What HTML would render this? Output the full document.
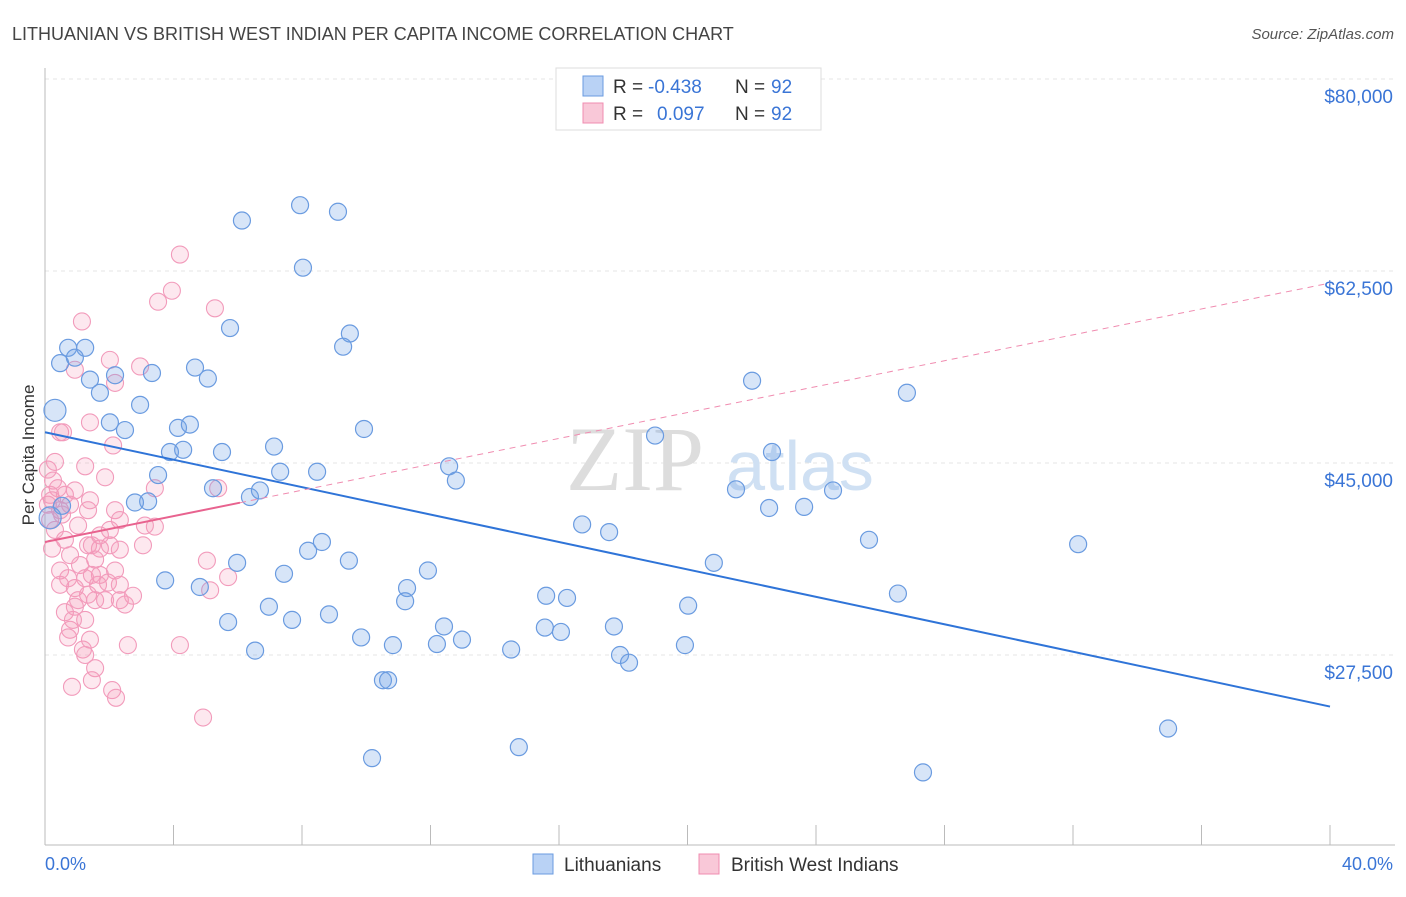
<!DOCTYPE html>
<html><head><meta charset="utf-8"><style>
body{margin:0;background:#fff;font-family:"Liberation Sans",sans-serif}
svg text{font-family:"Liberation Sans",sans-serif}
</style></head><body>
<svg id="chart" width="1406" height="892" xmlns="http://www.w3.org/2000/svg">
<text x="12" y="40" font-size="18" fill="#444">LITHUANIAN VS BRITISH WEST INDIAN PER CAPITA INCOME CORRELATION CHART</text>
<text x="1394" y="39" font-size="15" fill="#555" text-anchor="end" font-style="italic">Source: ZipAtlas.com</text>
<g id="grid"></g>
<g><text x="635" y="490" font-size="92" fill="#ddd" text-anchor="middle" font-family="Liberation Serif,serif" style="font-family:'Liberation Serif',serif">ZIP</text><text x="800" y="490" font-size="70" fill="#cfe0f3" text-anchor="middle">atlas</text></g>
<line x1="45" y1="68" x2="45" y2="845" stroke="#bbb"/>
<line x1="45" y1="845" x2="1395" y2="845" stroke="#bbb"/>
<g id="xticks"></g>
<g id="ylabels"></g>
<text x="45" y="870" font-size="18" fill="#3a75d6">0.0%</text>
<text x="1393" y="870" font-size="18" fill="#3a75d6" text-anchor="end">40.0%</text>
<text transform="translate(34,455) rotate(-90)" font-size="17" fill="#333" text-anchor="middle">Per Capita Income</text>
<g id="pink"></g>
<g id="blue"></g>
<g id="trends"></g>
<g>
<rect x="556" y="68" width="265" height="62" fill="#fff" stroke="#ddd"/>
<rect x="583" y="76" width="20" height="20" fill="#b9d2f5" stroke="#6a9be0"/>
<rect x="583" y="103" width="20" height="20" fill="#f9c8d8" stroke="#f08cb0"/>
<text x="613" y="93" font-size="19" fill="#333">R =</text>
<text x="648" y="93" font-size="19" fill="#3a75d6">-0.438</text>
<text x="735" y="93" font-size="19" fill="#333">N =</text>
<text x="771" y="93" font-size="19" fill="#3a75d6">92</text>
<text x="613" y="120" font-size="19" fill="#333">R =</text>
<text x="657" y="120" font-size="19" fill="#3a75d6">0.097</text>
<text x="735" y="120" font-size="19" fill="#333">N =</text>
<text x="771" y="120" font-size="19" fill="#3a75d6">92</text>
</g>
<g>
<rect x="533" y="854" width="20" height="20" fill="#b9d2f5" stroke="#6a9be0"/>
<text x="564" y="871" font-size="19" fill="#333">Lithuanians</text>
<rect x="699" y="854" width="20" height="20" fill="#f9c8d8" stroke="#f08cb0"/>
<text x="731" y="871" font-size="19" fill="#333">British West Indians</text>
</g>
</svg>
<script>
const yTicks=[27500,45000,62500,80000];
const yTickLabels=["$27,500","$45,000","$62,500","$80,000"];
const xTicks=[0,4,8,12,16,20,24,28,32,36,40];
const blueX=[0.31,0.47,0.72,1.25,0.93,1.40,1.71,2.18,3.33,2.96,2.02,2.49,4.67,5.07,5.76,6.13,7.94,9.12,8.03,9.49,9.28,4.14,4.51,3.89,4.30,5.51,3.52,3.21,2.80,5.23,6.38,6.69,7.13,7.32,8.47,9.93,12.58,12.79,18.99,22.01,26.83,22.63,21.51,22.54,23.63,24.53,16.72,17.56,25.65,32.16,20.82,5.98,3.74,4.82,7.44,8.19,8.62,9.46,11.92,11.27,11.21,6.97,7.69,8.84,5.70,9.84,10.83,12.42,12.20,12.98,14.51,15.60,16.25,15.56,16.06,17.71,20.02,19.92,17.90,18.18,26.55,6.54,10.52,10.68,10.18,14.75,27.33,34.96,0.16,0.53];
const blueY=[49.8,54.1,55.5,55.5,54.6,52.6,51.4,53.0,53.2,50.3,48.7,48.0,53.7,52.7,57.3,67.1,68.5,67.9,62.8,56.8,55.6,48.2,48.5,46.0,46.2,46.0,43.9,41.5,41.4,42.7,41.9,42.5,46.5,44.2,44.2,48.1,44.7,43.4,47.5,52.5,51.4,46.0,42.6,40.9,41.0,42.5,39.4,38.7,38.0,37.6,35.9,35.9,34.3,33.7,34.9,37.0,37.8,36.1,35.2,33.6,32.4,31.9,30.7,31.2,30.5,29.1,28.4,30.1,28.5,28.9,28.0,32.9,32.7,30.0,29.6,30.1,32.0,28.4,27.5,26.8,33.1,27.9,25.2,25.2,18.1,19.1,16.8,20.8,40.0,41.1];
const pinkX=[4.20,3.95,3.52,5.29,1.15,2.02,2.96,2.18,0.93,0.47,1.40,2.12,0.56,0.31,1.25,1.87,0.25,0.40,0.16,0.93,1.40,0.09,0.47,0.78,1.34,2.18,3.42,5.39,0.16,1.03,2.02,3.42,0.22,0.62,1.34,1.71,2.02,2.33,3.05,0.78,1.09,1.56,1.71,2.18,0.47,0.72,1.25,1.46,1.65,1.96,2.33,0.47,0.93,1.34,1.56,2.33,2.74,5.14,5.70,5.04,0.62,0.93,0.78,0.72,1.18,1.25,2.58,4.20,1.56,1.46,0.84,2.09,2.21,4.92,0.09,0.22,0.53,1.87,3.11,1.71,2.33,1.03,1.46,0.31,0.62,1.25,2.49,0.87,1.40];
const pinkY=[64.0,60.7,59.7,59.1,57.9,54.4,53.8,52.3,53.5,47.8,48.7,46.6,47.8,45.1,44.7,43.7,43.4,42.7,42.1,42.5,41.6,41.2,40.7,41.2,40.7,40.7,42.7,42.7,39.8,39.3,38.9,39.2,37.2,38.0,37.5,37.2,37.5,37.1,37.5,36.6,35.7,36.2,34.8,35.2,35.2,34.5,34.5,34.8,33.9,34.1,33.9,33.9,33.6,33.0,32.5,32.5,32.9,33.4,34.6,36.1,31.4,31.9,29.8,29.1,28.0,27.5,28.4,28.4,26.3,25.2,24.6,24.3,23.6,21.8,44.4,41.6,40.3,32.5,39.3,38.4,39.8,32.5,37.5,38.9,42.1,30.7,32.1,30.7,28.9];
const blueTrend=[47.8,22.8];
const pinkTrend=[37.8,61.4];
const pinkSolidEnd=6.07;
const NS="http://www.w3.org/2000/svg";
const xs=v=>45+v/40*1285;
const ys=v=>79+(80-v)/17.5*192;
function mk(t,a,p){const e=document.createElementNS(NS,t);for(const k in a)e.setAttribute(k,a[k]);p.appendChild(e);return e;}
const grid=document.getElementById('grid'),yl=document.getElementById('ylabels'),xt=document.getElementById('xticks');
yTicks.forEach((t,i)=>{const y=ys(t/1000);
const g=mk('line',{x1:45,x2:1395,y1:y,y2:y,stroke:'#e4e4e4','stroke-dasharray':'4,4'},grid);


const tx=mk('text',{x:1393,y:y+24,'font-size':19,fill:'#3a75d6','text-anchor':'end'},yl);tx.textContent=yTickLabels[i];

});
xTicks.forEach(t=>{const l=mk('line',{x1:xs(t),x2:xs(t),y1:825,y2:845,stroke:'#bbb'},xt);

});
const bg=document.getElementById('blue'),pg=document.getElementById('pink'),tg=document.getElementById('trends');
pinkX.forEach((x,i)=>{const c=mk('circle',{cx:xs(x),cy:ys(pinkY[i]),r:8.5,fill:'rgba(244,150,180,0.22)',stroke:'#f29bbb','stroke-width':1.1},pg);

});
blueX.forEach((x,i)=>{const c=mk('circle',{cx:xs(x),cy:ys(blueY[i]),r:(i==0||i==88)?11:8.5,fill:'rgba(110,160,230,0.28)',stroke:'#6a9be0','stroke-width':1.2},bg);

});
const pAt=x=>pinkTrend[0]+(pinkTrend[1]-pinkTrend[0])*x/40;
let l=mk('line',{x1:xs(0),y1:ys(blueTrend[0]),x2:xs(40),y2:ys(blueTrend[1]),stroke:'#2f74d8','stroke-width':2},tg);


l=mk('line',{x1:xs(pinkSolidEnd),y1:ys(pAt(pinkSolidEnd)),x2:xs(40),y2:ys(pinkTrend[1]),stroke:'#f08cb0','stroke-width':1,'stroke-dasharray':'6,5'},tg);


l=mk('line',{x1:xs(0),y1:ys(pinkTrend[0]),x2:xs(pinkSolidEnd),y2:ys(pAt(pinkSolidEnd)),stroke:'#e8638f','stroke-width':2},tg);


</script>
</body></html>
